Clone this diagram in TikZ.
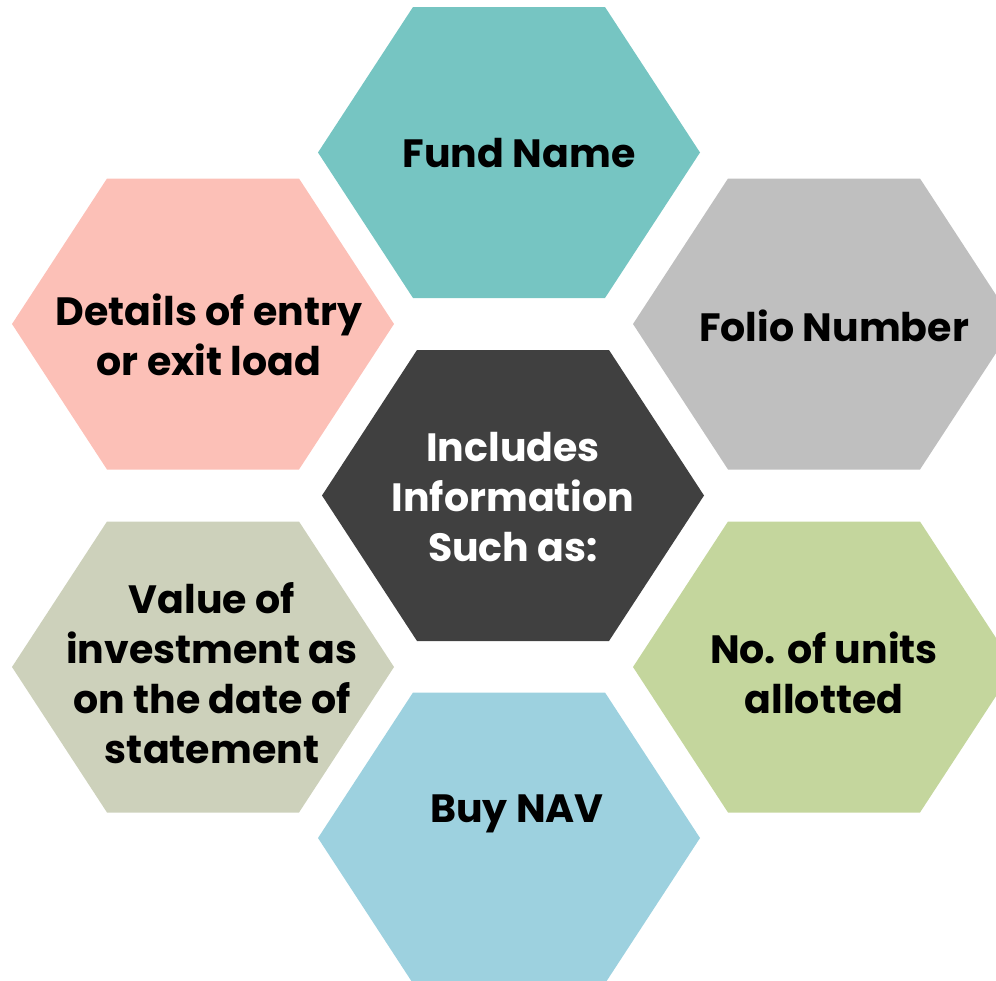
\documentclass[tikz,border=0pt]{standalone}
\usepackage{fontspec}
\setmainfont{Poppins}

\definecolor{hexteal}{HTML}{76C5C2}
\definecolor{hexgray}{HTML}{BFBFBF}
\definecolor{hexpink}{HTML}{FCC0B7}
\definecolor{hexdark}{HTML}{404040}
\definecolor{hexblue}{HTML}{9DD1DF}
\definecolor{hexgreen}{HTML}{C4D69D}
\definecolor{hexsage}{HTML}{CDD1BB}

\begin{document}
\begin{tikzpicture}[x=1pt,y=-1pt,
  hexagon/.pic={\fill[#1] (-191,0) -- (-96,-145.5) -- (96,-145.5) -- (191,0)
                 -- (96,145.5) -- (-96,145.5) -- cycle;},
  label/.style={align=center, inner sep=0pt, text=black,
                font=\fontsize{39.5}{50}\selectfont\bfseries}]
  \useasboundingbox (0,0) rectangle (996,980);
  \clip (0,0) rectangle (996,980);

  % honeycomb of seven cells
  \pic at (509,152.5) {hexagon=hexteal};
  \pic at (824,324)   {hexagon=hexgray};
  \pic at (203,324)   {hexagon=hexpink};
  \pic at (513,495.5) {hexagon=hexdark};
  \pic at (203,667)   {hexagon=hexsage};
  \pic at (824,667)   {hexagon=hexgreen};
  \pic at (509,838)   {hexagon=hexblue};

  % cell texts
  \node[label] (fund)    at (519,153) {Fund Name};
  \node[label] (folio)   at (834,326) {Folio Number};
  \node[label] (details) at (209,335) {Details of entry\\or exit load};
  \node[label, text=white] (center) at (513,497) {Includes\\Information\\Such as:};
  \node[label] (value)   at (212,673) {Value of\\investment as\\on the date of\\statement};
  \node[label] (units)   at (824,673) {No. of units\\allotted};
  \node[label] (buy)     at (517,814) {Buy NAV};
\end{tikzpicture}
\end{document}
